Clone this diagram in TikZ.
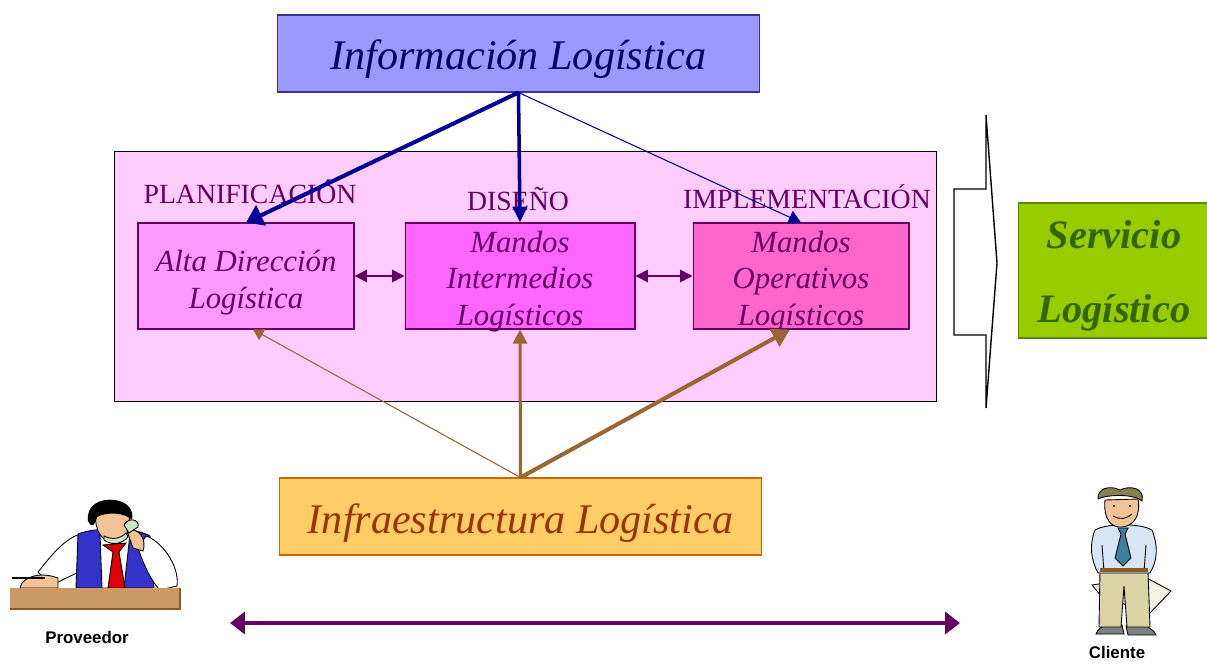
\documentclass[tikz,border=0pt]{standalone}
\usepackage{fontspec}
\setmainfont{Liberation Serif}
\setsansfont{Liberation Sans}
\usetikzlibrary{arrows.meta}
\definecolor{infofill}{HTML}{9999FF}
\definecolor{infodraw}{HTML}{333399}
\definecolor{infotext}{HTML}{000066}
\definecolor{navy}{HTML}{000099}
\definecolor{areafill}{HTML}{FFCCFF}
\definecolor{darkplum}{HTML}{660066}
\definecolor{altafill}{HTML}{FF99FF}
\definecolor{interfill}{HTML}{FF66FF}
\definecolor{operfill}{HTML}{FF66CC}
\definecolor{brownarrow}{HTML}{996633}
\definecolor{infrafill}{HTML}{FFCC66}
\definecolor{infradraw}{HTML}{CC6600}
\definecolor{infratext}{HTML}{993300}
\definecolor{servfill}{HTML}{99CC00}
\definecolor{servdraw}{HTML}{5A8A00}
\definecolor{servtext}{HTML}{336600}
% clip-art colours
\definecolor{skin}{HTML}{F2C495}
\definecolor{vest}{HTML}{3333CC}
\definecolor{redtie}{HTML}{E00000}
\definecolor{phone}{HTML}{CCE6CC}
\definecolor{desk}{HTML}{CC9966}
\definecolor{deskedge}{HTML}{8B5A2B}
\definecolor{shirtblue}{HTML}{D6E6F5}
\definecolor{tieblue}{HTML}{3F7FA0}
\definecolor{pants}{HTML}{D9D3A6}
\definecolor{hair}{HTML}{8A7F50}
\definecolor{paper}{HTML}{F2F2E0}
% taller first line, pushes the text down a little
\newcommand\alto[1]{\rule{0pt}{#1}}
\begin{document}
\begin{tikzpicture}[x=0.02cm,y=-0.02cm,>={Triangle[]},
  mando/.style={draw=darkplum,line width=0.6pt,minimum width=4.32cm,minimum height=2.12cm,
    align=center,text=darkplum,font=\itshape\fontsize{17.5}{21}\selectfont,inner sep=0pt,inner ysep=-4pt},
  fase/.style={text=darkplum,font=\fontsize{15.8}{18}\selectfont,inner sep=0pt},
  bigbox/.style={line width=0.6pt,minimum width=9.66cm,minimum height=1.54cm,
    font=\itshape\fontsize{24}{28}\selectfont,inner sep=0pt},
  persona/.style={font=\sffamily\bfseries\fontsize{9.6}{11}\selectfont,inner sep=0pt},
  ink/.style={draw=black,line width=0.5pt}]
\useasboundingbox (0,0) rectangle (1207,663);

% the three areas
\node[bigbox,draw=infodraw,fill=infofill,text=infotext] (info) at (518.5,53.5) {\alto{23pt}Información Logística};
\node[draw=black,line width=0.5pt,fill=areafill,minimum width=16.46cm,minimum height=5cm] (area) at (525.5,276) {};
\node[bigbox,draw=infradraw,fill=infrafill,text=infratext] (infra) at (520.5,516.5) {\alto{24.5pt}Infraestructura Logística};

\node[fase] (plan) at (250,192) {PLANIFICACIÓN};
\node[fase] (dis) at (518,199) {DISEÑO};
\node[fase] (impl) at (807,197) {IMPLEMENTACIÓN};

\node[mando,fill=altafill] (alta) at (246,276) {\alto{20pt}Alta Dirección\\Logística};
\node[mando,fill=interfill,minimum width=4.6cm] (inter) at (520,276) {\alto{18.5pt}Mandos\\Intermedios\\Logísticos};
\node[mando,fill=operfill] (oper) at (801,276) {\alto{18.5pt}Mandos\\Operativos\\Logísticos};

\draw[darkplum,line width=0.9pt,{Triangle[length=7pt,width=7pt]}-{Triangle[length=7pt,width=7pt]}] (alta) -- (inter);
\draw[darkplum,line width=0.9pt,{Triangle[length=7pt,width=7pt]}-{Triangle[length=7pt,width=7pt]}] (inter) -- (oper);

% information flows down
\draw[navy,line width=2.3pt,-{Triangle[length=9.5pt,width=12.5pt]}] (info.south) -- (alta.north);
\draw[navy,line width=2pt,-{Triangle[length=9pt,width=8pt]}] (info.south) -- (inter.north);
\draw[navy,line width=0.6pt,-{Triangle[length=7pt,width=8pt]}] (info.south) -- (oper.north);

% infrastructure supports up
\draw[brownarrow,line width=0.6pt,-{Triangle[length=6pt,width=7pt]}] (infra.north) -- ([xshift=0.14cm]alta.south);
\draw[brownarrow,line width=1.7pt,-{Triangle[length=8pt,width=8pt]}] (infra.north) -- (inter.south);
\draw[brownarrow,line width=2.3pt,-{Triangle[length=10pt,width=11pt]}] (infra.north) -- ([xshift=-0.22cm]oper.south);

% block arrow towards the service
\draw[line width=0.8pt,line join=miter] (986,115) -- (997,263) -- (986,408) -- (986,335)
  -- (954,335) -- (954,189) -- (986,189) -- cycle;
\node[draw=servdraw,line width=0.6pt,fill=servfill,text=servtext,minimum width=3.84cm,minimum height=2.7cm,
  align=center,font=\bfseries\itshape\fontsize{23}{42}\selectfont,inner sep=0pt] (servicio) at (1114,270.5) {\alto{22pt}Servicio\\Logístico};

% supplier at his desk
\filldraw[ink,fill=white] (80,534) .. controls (62,540) and (48,560) .. (38,572) -- (52,586)
  .. controls (62,579) and (72,576) .. (80,571) -- cycle;
\filldraw[ink,fill=vest] (78,534) .. controls (95,527) and (135,527) .. (150,536) -- (154,588) -- (76,588) -- cycle;
\filldraw[ink,fill=white] (100,534) -- (130,534) -- (124,588) -- (102,588) -- cycle;
\filldraw[ink,fill=redtie] (103,545) -- (126,543) -- (119,552) -- (125,588) -- (108,588) -- (113,552) -- cycle;
\filldraw[ink,fill=white] (146,536) .. controls (160,540) and (180,565) .. (177,586) -- (160,590)
  .. controls (150,580) and (142,560) .. (138,548) -- cycle;
\filldraw[ink,fill=skin] (22,583) .. controls (30,574) and (45,573) .. (58,578) -- (58,588) -- (20,588) -- cycle;
\draw[line width=1.6pt] (12,578) -- (45,578);
\filldraw[ink,fill=skin] (96,514) .. controls (93,535) and (110,549) .. (122,541)
  .. controls (131,531) and (131,518) .. (127,511) -- cycle;
\filldraw[ink,fill=phone] (104,540) .. controls (112,546) and (122,544) .. (128,537) -- (126,533)
  .. controls (120,539) and (112,540) .. (104,536) -- cycle;
\filldraw[ink,fill=skin] (127,531) .. controls (139,526) and (147,540) .. (143,551) -- (133,548) -- cycle;
\filldraw[ink,fill=phone] (124,525) .. controls (128,517) and (140,519) .. (138,527) -- (129,533) -- cycle;
\fill[black] (88,521) .. controls (86,505) and (100,498) .. (115,500) .. controls (128,502) and (134,510) .. (132,520)
  .. controls (125,512) and (105,512) .. (97,517) .. controls (95,525) and (92,529) .. (88,521) -- cycle;
\fill[desk] (10,588) rectangle (180,609);
\draw[deskedge,line width=0.8pt] (10,609) -- (180,609) -- (180,588);
\node[persona] (prov) at (87,637) {Proveedor};

% customer standing
\filldraw[ink,fill=paper] (1092,585) -- (1145,577) -- (1171,591) -- (1150,613) -- (1101,596) -- cycle;
\filldraw[ink,fill=gray] (1096,634) .. controls (1099,625) and (1112,622) .. (1122,625) -- (1124,634) -- cycle;
\filldraw[ink,fill=gray] (1126,626) .. controls (1138,622) and (1152,626) .. (1156,635) -- (1128,635) -- cycle;
\filldraw[ink,fill=pants] (1100,570) -- (1148,570) -- (1150,627) -- (1127,627) -- (1124,586) -- (1121,627) -- (1099,627) -- cycle;
\filldraw[ink,fill=shirtblue] (1095,530) .. controls (1089,545) and (1091,560) .. (1098,573) -- (1150,573)
  .. controls (1158,560) and (1158,545) .. (1152,530) .. controls (1140,523) and (1107,523) .. (1095,530) -- cycle;
\draw[line width=0.5pt] (1102,545) -- (1104,572) (1146,545) -- (1144,572);
\fill[deskedge] (1100,568) rectangle (1148,572);
\filldraw[ink,fill=tieblue] (1118,528) -- (1128,528) -- (1125,534) -- (1131,558) -- (1123,566) -- (1115,558) -- (1121,534) -- cycle;
\filldraw[ink,fill=skin] (1105,500) .. controls (1103,520) and (1112,528) .. (1122,527)
  .. controls (1134,526) and (1141,515) .. (1138,499) -- cycle;
\filldraw[ink,fill=hair] (1098,499) .. controls (1097,488) and (1110,485) .. (1120,490)
  .. controls (1130,485) and (1145,488) .. (1142,501) .. controls (1135,494) and (1108,494) .. (1098,499) -- cycle;
\fill (1114,506) circle (1.2) (1130,506) circle (1.2);
\draw[line width=0.5pt] (1113,516) .. controls (1119,520) and (1127,519) .. (1132,514);
\node[persona] (cli) at (1117,652) {Cliente};

% between supplier and customer
\coordinate (desde) at (230,623);
\coordinate (hasta) at (960,623);
\draw[darkplum,line width=2.3pt,{Triangle[length=8.5pt,width=12.5pt]}-{Triangle[length=8.5pt,width=12.5pt]}] (desde) -- (hasta);
\end{tikzpicture}
\end{document}
